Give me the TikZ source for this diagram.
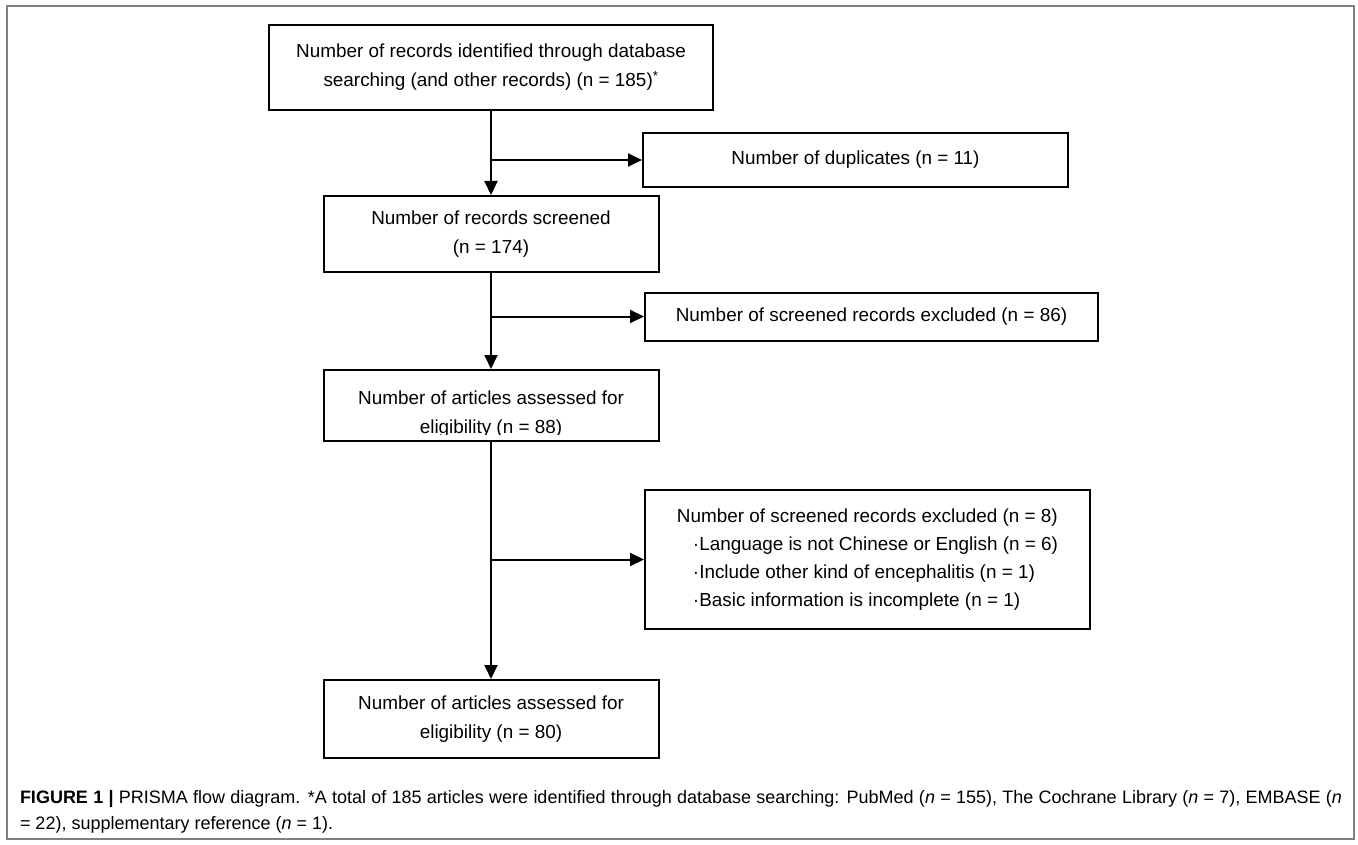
\documentclass[tikz,border=0pt]{standalone}
\usepackage{fontspec}
\setmainfont{Liberation Sans}
\usepackage{tikz}
\usetikzlibrary{arrows.meta}
\definecolor{framegray}{RGB}{128,128,128}
\newcommand{\boxfont}{\fontsize{18.9}{29}\selectfont}
\newcommand{\listfont}{\fontsize{18.9}{28}\selectfont}
\newcommand{\capfont}{\fontsize{18}{26}\selectfont}
\tikzset{>={Triangle[length=14pt,width=13pt]},
         box/.style={draw, line width=2pt, inner sep=0pt, align=center, font=\boxfont},
         flow/.style={->, line width=2pt}}

\begin{document}
\begin{tikzpicture}[x=1pt, y=-1pt, line width=2pt]
  \useasboundingbox (0,0) rectangle (1358,845);
  \draw[framegray, line width=1.5pt] (7,6) rectangle (1354,839);

  \node[box, minimum width=444pt, minimum height=85pt] (A) at (491,67.5)
    {Number of records identified through database\\searching (and other records) (n = 185)\textsuperscript{*}};
  \node[box, minimum width=425pt, minimum height=54pt] (B) at (855.5,160) {Number of duplicates (n = 11)};
  \node[box, minimum width=335pt, minimum height=76pt] (C) at (491,234) {Number of records screened\\(n = 174)};
  \node[box, minimum width=453pt, minimum height=48pt] (D) at (871.5,316.5) {Number of screened records excluded (n = 86)};
  \node[box, minimum width=335pt, minimum height=71pt] (E) at (491,405.5) {};
  \begin{scope}
    \clip ([xshift=1pt,yshift=-1pt]E.north west) rectangle ([xshift=-1pt,yshift=8pt]E.south east);
    \node[box, draw=none] (E') at (491,414.5) {Number of articles assessed for\\eligibility (n = 88)};
  \end{scope}
  \node[box, align=left, font=\listfont, minimum width=445pt, minimum height=139pt] (F) at (867.5,559.5)
    {Number of screened records excluded (n = 8)\\
     \hspace*{16pt}\textperiodcentered Language is not Chinese or English (n = 6)\\
     \hspace*{16pt}\textperiodcentered Include other kind of encephalitis (n = 1)\\
     \hspace*{16pt}\textperiodcentered Basic information is incomplete (n = 1)};
  \node[box, minimum width=335pt, minimum height=78pt] (G) at (491,719) {Number of articles assessed for\\eligibility (n = 80)};

  \coordinate (A1) at (491,160);
  \coordinate (C1) at (491,316.5);
  \coordinate (E1) at (491,559.5);

  \draw[flow] (A) -- (C);
  \draw[flow] (C) -- (E);
  \draw[flow] (E) -- (G);
  \draw[flow] (A1) -- (B);
  \draw[flow] (C1) -- (D);
  \draw[flow] (E1) -- (F);

  \node[anchor=base west, text width=1322pt, align=justify, inner sep=0pt, font=\capfont] (cap) at (19,803)
    {\textbf{FIGURE 1 |} PRISMA flow diagram. *A total of 185 articles were identified through database searching: PubMed (\textit{n} = 155), The Cochrane Library (\textit{n} = 7), EMBASE (\textit{n}\linebreak = 22), supplementary reference (\textit{n} = 1).};
\end{tikzpicture}
\end{document}
